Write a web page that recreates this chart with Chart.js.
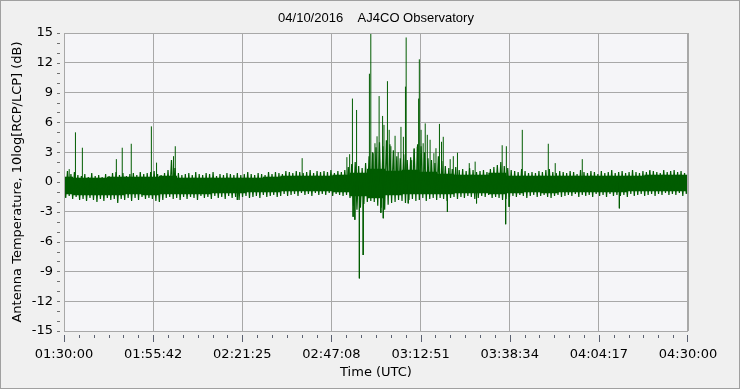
<!DOCTYPE html>
<html lang="en">
<head>
<meta charset="UTF-8">
<title>AJ4CO Observatory</title>
<script src="https://cdn.jsdelivr.net/npm/chart.js"></script>
<style>
    body {
        margin: 0;
        padding: 0;
        background: #f0f0f0;
    }
    canvas {
        display: block;
    }
</style>
</head>
<body>
<canvas id="chart" width="740" height="389"></canvas>

<script>
    // solid core of the noise band, every 5 minutes after 01:30:00 (dB)
    var coreHiDb = [
        0.5, 0.4, 0.4, 0.5, 0.5, 0.5, 0.6, 0.4, 0.4, 0.4,
        0.4, 0.4, 0.5, 0.6, 0.6, 0.6, 0.7, 0.9, 1.3, 1.1,
        1.2, 1.0, 0.8, 0.7, 0.7, 0.9, 0.6, 0.6, 0.6, 0.6,
        0.6, 0.6, 0.6, 0.6, 0.7, 0.7, 0.7
    ];
    var coreLoDb = [
        -1.2, -1.3, -1.3, -1.3, -1.2, -1.3, -1.2, -1.2, -1.2, -1.1,
        -1.1, -1.0, -1.0, -0.9, -0.9, -0.9, -1.0, -1.4, -1.6, -1.3,
        -1.2, -1.2, -1.2, -1.1, -1.1, -1.2, -1.1, -1.0, -1.1, -1.0,
        -1.0, -1.0, -1.0, -0.9, -0.9, -0.9, -0.9
    ];

    // band extremes, one pair per minute (dB)
    var hiDb = [
        0.9, 1.1, 0.8, 1.0, 0.7, 0.6, 0.8, 0.5, 0.9, 0.6,
        0.7, 0.5, 0.8, 0.6, 0.9, 1.0, 0.7, 0.9, 0.6, 0.8,
        0.9, 0.7, 1.0, 0.8, 0.9, 1.0, 1.1, 0.8, 0.7, 0.9,
        1.2, 2.2, 1.4, 0.9, 0.7, 0.8, 0.9, 0.7, 1.0, 0.8,
        0.7, 0.9, 0.8, 1.0, 0.6, 0.8, 0.7, 0.9, 0.8, 0.7,
        0.9, 0.7, 0.8, 1.0, 0.8, 0.7, 0.9, 0.8, 0.7, 1.0,
        0.8, 1.0, 0.9, 0.8, 1.1, 1.0, 0.9, 1.1, 1.0, 0.9,
        1.0, 1.2, 0.9, 1.1, 1.0, 1.1, 1.0, 1.2, 0.9, 1.1,
        1.0, 1.2, 1.5, 1.8, 2.0, 1.6, 1.4, 1.9, 2.6, 3.0,
        3.5, 4.0, 3.6, 4.2, 3.8, 3.2, 2.6, 2.4, 2.8, 2.2,
        2.5, 3.4, 3.8, 3.6, 3.0, 2.4, 2.2, 1.9, 2.6, 2.1,
        1.6, 1.4, 1.3, 1.5, 1.2, 1.3, 1.1, 1.4, 1.2, 1.0,
        1.1, 1.2, 1.0, 1.3, 1.5, 1.7, 2.0, 1.6, 1.4, 1.2,
        1.1, 1.0, 1.3, 1.1, 0.9, 1.0, 0.9, 1.1, 1.0, 1.2,
        1.3, 1.0, 0.9, 1.1, 1.0, 0.9, 1.1, 1.0, 0.8, 1.2,
        1.0, 0.9, 1.1, 1.0, 0.8, 1.1, 0.9, 1.0, 1.2, 0.9,
        1.0, 1.1, 0.9, 1.0, 1.2, 1.0, 0.9, 1.1, 1.0, 1.2,
        1.1, 1.0, 0.9, 1.2, 1.0, 1.1, 1.2, 1.0, 1.1, 0.9, 1.0
    ];
    var loDb = [
        -1.6, -1.4, -1.7, -1.5, -1.8, -1.7, -1.9, -1.6, -1.8, -2.0,
        -1.7, -1.9, -1.6, -1.8, -1.7, -2.1, -1.7, -1.8, -1.6, -1.9,
        -1.6, -1.8, -1.5, -1.7, -1.6, -1.7, -1.9, -2.0, -1.8, -1.6,
        -1.5, -1.7, -1.6, -1.8, -1.5, -1.7, -1.5, -1.6, -1.8, -1.4,
        -1.6, -1.5, -1.7, -1.4, -1.6, -1.5, -1.7, -1.4, -1.6, -1.5,
        -1.8, -1.5, -1.4, -1.6, -1.5, -1.4, -1.6, -1.3, -1.5, -1.4,
        -1.3, -1.5, -1.4, -1.2, -1.4, -1.3, -1.2, -1.4, -1.1, -1.3,
        -1.2, -1.4, -1.1, -1.3, -1.2, -1.3, -1.1, -1.4, -1.2, -1.3,
        -1.4, -1.3, -1.6, -2.4, -2.8, -2.6, -2.2, -2.0, -1.9, -2.0,
        -2.4, -2.6, -2.8, -2.3, -2.1, -2.0, -1.8, -1.9, -2.1, -1.8,
        -1.7, -1.9, -1.8, -1.6, -1.9, -1.7, -1.6, -1.8, -1.6, -1.7,
        -1.9, -1.6, -1.5, -1.7, -1.5, -1.6, -1.4, -1.5, -1.7, -1.6,
        -1.4, -1.5, -1.3, -1.6, -1.5, -1.6, -1.8, -1.7, -1.5, -1.4,
        -1.5, -1.3, -1.4, -1.6, -1.4, -1.3, -1.5, -1.4, -1.3, -1.5,
        -1.6, -1.4, -1.3, -1.5, -1.4, -1.3, -1.4, -1.2, -1.5, -1.3,
        -1.4, -1.3, -1.5, -1.2, -1.4, -1.3, -1.5, -1.2, -1.4, -1.3,
        -1.4, -1.3, -1.5, -1.2, -1.4, -1.3, -1.2, -1.4, -1.3, -1.2,
        -1.4, -1.2, -1.3, -1.1, -1.3, -1.2, -1.3, -1.1, -1.4, -1.2, -1.2
    ];

    // isolated spikes: minutes after 01:30:00 and peak value (dB)
    var spikeMin = [
        1.5, 3.3, 5.3, 15.1, 16.8, 19.4, 25.2, 26.7, 31.6, 32.1,
        50.0, 68.7, 81.6, 82.4, 83.2, 83.4, 83.9, 84.4, 85.2, 86.3,
        88.1, 88.5, 89.2, 89.7, 90.3, 90.9, 91.4, 91.9, 92.1, 92.3,
        93.3, 93.8, 94.3, 95.5, 96.4, 97.2, 97.9, 98.5, 98.7, 99.3,
        100.3, 101.0, 101.9, 102.3, 102.5, 103.0, 103.6, 104.2, 104.8, 105.6,
        106.7, 107.3, 108.3, 108.9, 109.4, 110.6, 111.4, 112.3, 113.5, 116.9,
        118.6, 119.0, 126.4, 127.4, 127.6, 128.4, 132.2, 139.7, 141.7, 149.5,
        160.2, 168.9
    ];
    var spikeDb = [
        1.3, 5.0, 3.45, 2.3, 3.45, 3.85, 5.6, 1.95, 2.6, 3.6,
        -1.8, 2.4, 2.5, 2.8, 8.4, -3.5, -3.8, 7.25, -9.7, -7.35,
        10.9, 14.9, 2.9, 3.9, 4.6, 8.65, -3.1, 6.65, -3.65, 5.75,
        10.15, 5.25, 3.6, 4.65, 3.0, 5.55, 4.55, 9.6, 14.55, -2.15,
        2.2, 3.3, 3.55, 8.4, 12.35, 5.25, 3.9, 5.9, 4.75, 4.25,
        2.9, 3.4, 5.85, 4.05, 4.55, -3.0, 2.3, 2.6, 2.95, 1.9,
        2.05, -2.15, 3.7, -4.25, 3.6, -2.5, 5.25, 3.85, 1.9, 2.3,
        -2.65, 1.1
    ];

    var xTickLabels = ['01:30:00', '01:55:42', '02:21:25', '02:47:08', '03:12:51', '03:38:34', '04:04:17', '04:30:00'];
    var totalMin = 180;
    var coreStep = 5;
    var traceColor = '#005c00';

    var corePoints = coreHiDb.map(function(v, i) {
        return {x: i * coreStep, y: [coreLoDb[i], v]};
    });

    // ragged edge: trace swings between the minute extremes
    var zigPoints = [];
    hiDb.forEach(function(v, i) {
        zigPoints.push({x: i, y: v});
        zigPoints.push({x: Math.min(i + 0.5, totalMin), y: loDb[i]});
    });

    // each spike is its own vertical stroke from 0 to the peak, split by a null gap
    var spikePoints = [];
    spikeMin.forEach(function(t, i) {
        spikePoints.push({x: t, y: 0});
        spikePoints.push({x: t, y: spikeDb[i]});
        spikePoints.push({x: t, y: null});
    });

    var gridColor = '#a8a8a8';
    var tickFont = {family: 'DejaVu Sans', size: 13};

    var framePlugin = {
        id: 'frame',
        beforeDraw: function(chart) {
            var ctx = chart.ctx, a = chart.chartArea;
            ctx.save();
            ctx.fillStyle = '#f0f0f0';
            ctx.fillRect(0, 0, chart.width, chart.height);
            ctx.strokeStyle = '#a0a0a0';
            ctx.lineWidth = 1;
            ctx.strokeRect(0.5, 0.5, chart.width - 1, chart.height - 1);
            ctx.fillStyle = '#f5f5f8';
            ctx.fillRect(a.left, a.top, a.right - a.left, a.bottom - a.top);
            ctx.restore();
        },
        afterDraw: function(chart) {
            var ctx = chart.ctx, a = chart.chartArea;
            var xs = chart.scales.x, ys = chart.scales.y;
            ctx.save();
            ctx.strokeStyle = gridColor;
            ctx.lineWidth = 1;
            ctx.strokeRect(a.left + 0.5, a.top + 0.5, a.right - a.left - 1, a.bottom - a.top);

            // x tick marks below the frame, 6 minor steps per label
            ctx.strokeStyle = '#5a6070';
            ctx.beginPath();
            for (var i = 0; i <= 42; i++) {
                var px = Math.round(xs.getPixelForValue(i * totalMin / 42)) + 0.5;
                if (i === 42) px -= 1;
                var len = i % 6 === 0 ? 7 : 3;
                ctx.moveTo(px, a.bottom + 4);
                ctx.lineTo(px, a.bottom + 4 + len);
            }
            ctx.stroke();

            // y tick marks, one per dB
            ctx.strokeStyle = '#707070';
            ctx.beginPath();
            for (var v = -15; v <= 15; v++) {
                var py = Math.round(ys.getPixelForValue(v)) + 0.5;
                ctx.moveTo(a.left - 7, py);
                ctx.lineTo(a.left - 4, py);
            }
            ctx.stroke();

            ctx.fillStyle = '#000';
            ctx.font = '13px "Liberation Sans"';
            ctx.textAlign = 'center';
            ctx.textBaseline = 'middle';
            ctx.fillText('04/10/2016    AJ4CO Observatory', (a.left + a.right) / 2, 18);
            ctx.restore();
        }
    };

    var ctx = document.getElementById('chart').getContext('2d');
    var chart = new Chart(ctx, {
        type: 'line',
        data: {
            datasets: [{
                label: '10log[RCP/LCP]',
                data: zigPoints,
                borderColor: traceColor,
                borderWidth: 1.2,
                borderJoinStyle: 'bevel',
                pointRadius: 0,
                tension: 0,
                fill: false
            }, {
                label: 'spikes',
                data: spikePoints,
                borderColor: traceColor,
                borderWidth: 1,
                pointRadius: 0,
                spanGaps: false,
                fill: false
            }, {
                type: 'bar',
                label: 'core',
                data: corePoints,
                backgroundColor: traceColor,
                borderWidth: 0,
                barPercentage: 1,
                categoryPercentage: 1
            }]
        },
        options: {
            responsive: false,
            animation: false,
            layout: {
                padding: {top: 33, right: 52, left: 0, bottom: 0}
            },
            plugins: {
                legend: {display: false},
                tooltip: {enabled: false}
            },
            scales: {
                x: {
                    type: 'linear',
                    min: 0,
                    max: totalMin,
                    offset: false,
                    afterFit: function(scale) { scale.height = 58; },
                    afterBuildTicks: function(scale) {
                        scale.ticks = xTickLabels.map(function(l, i) {
                            return {value: i * totalMin / (xTickLabels.length - 1)};
                        });
                    },
                    ticks: {
                        autoSkip: false,
                        maxRotation: 0,
                        padding: 16,
                        color: '#000',
                        font: tickFont,
                        callback: function(value, index) { return xTickLabels[index]; }
                    },
                    grid: {color: gridColor, drawTicks: false, offset: false},
                    border: {display: false},
                    title: {
                        display: true,
                        text: 'Time (UTC)',
                        color: '#000',
                        font: tickFont,
                        padding: {top: 0, bottom: 9}
                    }
                },
                y: {
                    min: -15,
                    max: 15,
                    afterFit: function(scale) { scale.width = 64; },
                    ticks: {
                        stepSize: 3,
                        padding: 11,
                        color: '#000',
                        font: tickFont
                    },
                    grid: {color: gridColor, drawTicks: false},
                    border: {display: false},
                    title: {
                        display: true,
                        text: 'Antenna Temperature, 10log[RCP/LCP] (dB)',
                        color: '#000',
                        font: tickFont,
                        padding: {top: 10, bottom: 0}
                    }
                }
            }
        },
        plugins: [framePlugin]
    });
</script>
</body>
</html>
